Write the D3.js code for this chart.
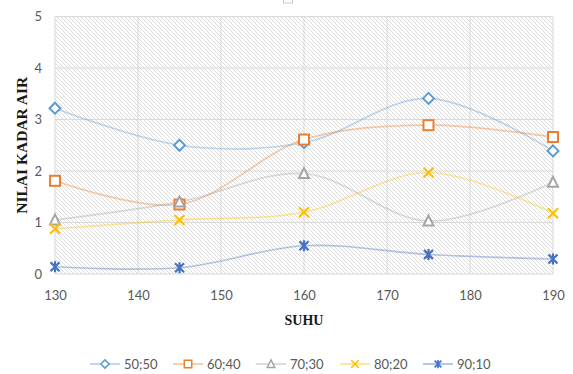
<!DOCTYPE html>
<html>
<head>
<meta charset="utf-8">
<script src="https://cdn.jsdelivr.net/npm/d3@7"></script>
<style>
  html, body { margin: 0; padding: 0; background: #fff; }
  svg { display: block; }
</style>
</head>
<body>
<svg id="chart" width="573" height="374"></svg>
<script>
// Suhu (x) values
const suhu = [130, 145, 160, 175, 190];
// Series names (ratio)
const seriesNames = ["50;50", "60;40", "70;30", "80;20", "90;10"];
// Nilai kadar air per series
const s5050 = [3.22, 2.50, 2.55, 3.41, 2.39];
const s6040 = [1.81, 1.35, 2.61, 2.89, 2.66];
const s7030 = [1.05, 1.40, 1.95, 1.03, 1.78];
const s8020 = [0.88, 1.05, 1.20, 1.97, 1.18];
const s9010 = [0.14, 0.12, 0.55, 0.38, 0.29];
// Axis ticks
const xTicks = [130, 140, 150, 160, 170, 180, 190];
const yTicks = [0, 1, 2, 3, 4, 5];

const seriesValues = [s5050, s6040, s7030, s8020, s9010];
const colors = ["#5B9BD5", "#ED7D31", "#A5A5A5", "#FFC000", "#4472C4"];
const markerTypes = ["diamond", "square", "triangle", "x", "star"];

const svg = d3.select("#chart");
const x = d3.scaleLinear().domain([130, 190]).range([55, 553]);
const y = d3.scaleLinear().domain([0, 5]).range([274, 16.5]);

// hatch pattern for plot background
const defs = svg.append("defs");
const pat = defs.append("pattern")
  .attr("id", "hatch").attr("patternUnits", "userSpaceOnUse")
  .attr("width", 4).attr("height", 4);
pat.append("rect").attr("width", 4).attr("height", 4).attr("fill", "#fff");
pat.append("path").attr("d", "M-1,-1L5,5M-1,3L1,5M3,-1L5,1")
  .attr("stroke", "#dcdcdc").attr("stroke-width", 1);

svg.append("rect")
  .attr("x", x(130)).attr("y", y(5))
  .attr("width", x(190) - x(130)).attr("height", y(0) - y(5))
  .attr("fill", "url(#hatch)");

// gridlines
const grid = svg.append("g");
grid.selectAll("line.h").data(yTicks).join("line")
  .attr("x1", x(130)).attr("x2", x(190))
  .attr("y1", d => y(d)).attr("y2", d => y(d))
  .attr("stroke", "#d9d9d9").attr("stroke-width", 1);
grid.selectAll("line.v").data(xTicks).join("line")
  .attr("y1", y(0)).attr("y2", y(5))
  .attr("x1", d => x(d)).attr("x2", d => x(d))
  .attr("stroke", "#d9d9d9").attr("stroke-width", 1);

// axes
const tickFont = "Lato, 'Open Sans', sans-serif";
const xAxis = svg.append("g").attr("transform", `translate(0,${y(0)})`)
  .call(d3.axisBottom(x).tickValues(xTicks).tickSize(0).tickPadding(17).tickFormat(d3.format("d")));
xAxis.select(".domain").remove();
xAxis.selectAll("text").attr("fill", "#595959").style("font", `13px ${tickFont}`);

const yAxis = svg.append("g").attr("transform", `translate(${x(130)},0)`)
  .call(d3.axisLeft(y).tickValues(yTicks).tickSize(0).tickPadding(13).tickFormat(d3.format("d")));
yAxis.select(".domain").remove();
yAxis.selectAll("text").attr("fill", "#595959").style("font", `13px ${tickFont}`);

// axis titles
svg.append("text")
  .attr("transform", `translate(27,${(y(0) + y(5)) / 2}) rotate(-90)`)
  .attr("text-anchor", "middle")
  .style("font", "bold 15.5px 'Liberation Serif', 'Times New Roman', serif")
  .attr("fill", "#1a1a1a")
  .text("NILAI KADAR AIR");

svg.append("text")
  .attr("x", (x(130) + x(190)) / 2).attr("y", 325)
  .attr("text-anchor", "middle")
  .style("font", "bold 14px 'Liberation Serif', 'Times New Roman', serif")
  .attr("fill", "#1a1a1a")
  .text("SUHU");

// small title placeholder box at top
svg.append("rect").attr("x", 283.5).attr("y", -6).attr("width", 9).attr("height", 9)
  .attr("fill", "#fff").attr("stroke", "#c8c8c8").attr("stroke-width", 1);

// marker drawing
function drawMarker(g, type, color, cx, cy) {
  const s = g.append("g").attr("transform", `translate(${cx},${cy})`);
  if (type === "diamond") {
    s.append("path").attr("d", "M0,-5.5L5.5,0L0,5.5L-5.5,0Z")
      .attr("fill", "#fff").attr("stroke", color).attr("stroke-width", 2);
  } else if (type === "square") {
    s.append("rect").attr("x", -5).attr("y", -5).attr("width", 10).attr("height", 10)
      .attr("fill", "#fff").attr("stroke", color).attr("stroke-width", 2);
  } else if (type === "triangle") {
    s.append("path").attr("d", "M0,-5.5L5,4.5L-5,4.5Z")
      .attr("fill", "#fff").attr("stroke", color).attr("stroke-width", 2);
  } else if (type === "x") {
    s.append("path").attr("d", "M-5,-5L5,5M-5,5L5,-5")
      .attr("stroke", color).attr("stroke-width", 2.2).attr("fill", "none");
  } else if (type === "star") {
    s.append("path").attr("d", "M-4.5,-4.5L4.5,4.5M-4.5,4.5L4.5,-4.5M0,-5.5L0,5.5")
      .attr("stroke", color).attr("stroke-width", 2.2).attr("fill", "none");
  }
}

// smoothed lines
const line = d3.line()
  .x((d, i) => x(suhu[i]))
  .y(d => y(d))
  .curve(d3.curveCatmullRom.alpha(0.5));

const plot = svg.append("g");
seriesValues.forEach((vals, si) => {
  plot.append("path").datum(vals)
    .attr("d", line)
    .attr("fill", "none")
    .attr("stroke", colors[si])
    .attr("stroke-opacity", 0.4)
    .attr("stroke-width", 1.6);
});
seriesValues.forEach((vals, si) => {
  vals.forEach((v, i) => drawMarker(plot, markerTypes[si], colors[si], x(suhu[i]), y(v)));
});

// legend
const legendX = [105, 188, 271, 355, 438];
const legendY = 364;
const lg = svg.append("g");
seriesNames.forEach((name, i) => {
  const cx = legendX[i];
  lg.append("line").attr("x1", cx - 15).attr("x2", cx + 15)
    .attr("y1", legendY).attr("y2", legendY)
    .attr("stroke", colors[i]).attr("stroke-opacity", 0.6).attr("stroke-width", 1.3);
  const mg = lg.append("g").attr("transform", `translate(${cx},${legendY}) scale(0.75)`);
  drawMarker(mg, markerTypes[i], colors[i], 0, 0);
  lg.append("text").attr("x", cx + 19).attr("y", legendY + 4.5)
    .attr("fill", "#595959").style("font", `13px ${tickFont}`)
    .text(name);
});
</script>
</body>
</html>
